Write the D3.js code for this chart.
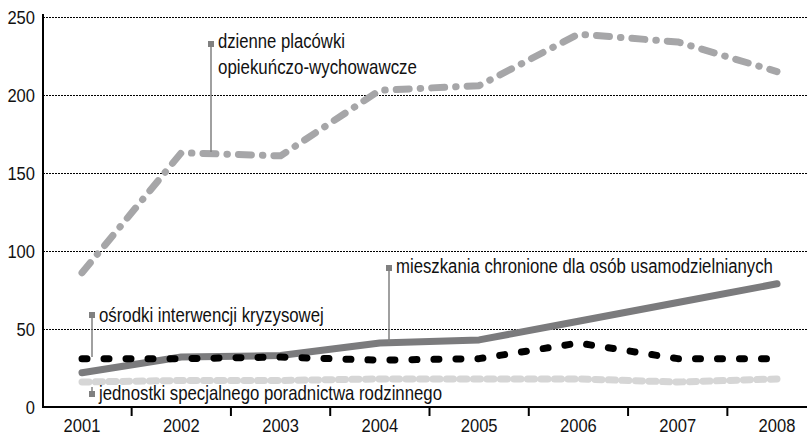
<!DOCTYPE html>
<html>
<head>
<meta charset="utf-8">
<script src="https://cdn.jsdelivr.net/npm/d3@7"></script>
<style>
  body { margin: 0; background: #fff; }
  svg { display: block; font-family: "Liberation Sans", Arial, sans-serif; }
</style>
</head>
<body>
<svg id="svg"></svg>
<script>
const years = ['2001', '2002', '2003', '2004', '2005', '2006', '2007', '2008']
const yTicks = [0, 50, 100, 150, 200, 250]

const dzienne = [86, 163, 161, 203, 206, 239, 234, 215]
const mieszkania = [22, 32, 33, 41, 43, 55, 67, 79]
const osrodki = [31, 31, 32, 30, 31, 41, 31, 31]
const jednostki = [16, 17, 17, 18, 18, 18, 16, 18]

const width = 807
const height = 437
const margin = {top: 17, right: 0, bottom: 30, left: 43}
const digitW = 9.2

const svg = d3.select('#svg').attr('width', width).attr('height', height)

const x = d3.scalePoint().domain(years).range([82, 777])
const y = d3.scaleLinear().domain([0, 250]).range([407, 17])

// squeeze a text horizontally to a given width (narrow font look)
function squeeze(sel, w, anchor) {
  sel.each(function(d, i) {
    const el = d3.select(this)
    const target = typeof w === 'function' ? w(d, i) : w
    const natural = this.getComputedTextLength()
    const tx = +el.attr('x'), ty = +el.attr('y')
    el.attr('x', 0).attr('y', 0)
      .attr('text-anchor', anchor || 'start')
      .attr('transform', `translate(${tx},${ty}) scale(${target / natural},1)`)
  })
}

// grid
svg.append('g')
  .selectAll('line')
  .data(yTicks.filter(d => d > 0))
  .join('line')
    .attr('x1', margin.left).attr('x2', width)
    .attr('y1', d => y(d) + 0.5).attr('y2', d => y(d) + 0.5)
    .attr('stroke', '#000').attr('stroke-width', 1)
    .attr('stroke-dasharray', '2,1')

const line = d3.line().x((d, i) => x(years[i])).y(d => y(d))

const series = [
  {values: jednostki, color: '#d6d6d6', dash: '7,6.5'},
  {values: mieszkania, color: '#7b7b7d', dash: null},
  {values: osrodki, color: '#000', dash: '5,17'},
  {values: dzienne, color: '#a6a6a8', dash: '13,11,0.5,11'}
]

svg.append('g')
  .selectAll('path')
  .data(series)
  .join('path')
    .attr('d', d => line(d.values))
    .attr('fill', 'none')
    .attr('stroke', d => d.color)
    .attr('stroke-width', 7)
    .attr('stroke-linecap', 'round')
    .attr('stroke-linejoin', 'round')
    .attr('stroke-dasharray', d => d.dash)

// axes
svg.append('line')
  .attr('x1', margin.left).attr('x2', margin.left)
  .attr('y1', 14).attr('y2', 408)
  .attr('stroke', '#000').attr('stroke-width', 2)
svg.append('line')
  .attr('x1', margin.left - 1).attr('x2', width)
  .attr('y1', 407).attr('y2', 407)
  .attr('stroke', '#000').attr('stroke-width', 2)

const step = x.step()
svg.append('g')
  .selectAll('line')
  .data(years.slice(1))
  .join('line')
    .attr('x1', d => x(d) - step / 2).attr('x2', d => x(d) - step / 2)
    .attr('y1', 407).attr('y2', 416)
    .attr('stroke', '#000').attr('stroke-width', 2)

svg.append('g')
  .selectAll('text')
  .data(years)
  .join('text')
    .attr('x', d => x(d)).attr('y', 432)
    .attr('font-size', 19)
    .attr('fill', '#111')
    .text(d => d)
    .call(squeeze, d => d.length * digitW, 'middle')

svg.append('g')
  .selectAll('text')
  .data(yTicks)
  .join('text')
    .attr('x', 35).attr('y', d => y(d) + 6.5)
    .attr('font-size', 19)
    .attr('fill', '#111')
    .text(d => d)
    .call(squeeze, d => String(d).length * digitW, 'end')

// annotations
const notes = [
  {x: 211, y0: 44, y1: 152, base: 48, lines: ['dzienne placówki', 'opiekuńczo-wychowawcze'], w: [127, 199]},
  {x: 389, y0: 268, y1: 342, base: 273, lines: ['mieszkania chronione dla osób usamodzielnianych'], w: [377]},
  {x: 92, y0: 315, y1: 357, base: 322, lines: ['ośrodki interwencji kryzysowej'], w: [225]},
  {x: 92, y0: 394, y1: 387, base: 400, lines: ['jednostki specjalnego poradnictwa rodzinnego'], w: [343]}
]

const note = svg.append('g').selectAll('g').data(notes).join('g')
note.append('line')
  .attr('x1', d => d.x).attr('x2', d => d.x)
  .attr('y1', d => d.y0).attr('y2', d => d.y1)
  .attr('stroke', '#808080').attr('stroke-width', 1.5)
note.append('rect')
  .attr('x', d => d.x - 3).attr('y', d => d.y0 - 3)
  .attr('width', 6).attr('height', 6)
  .attr('fill', '#808080')
note.each(function(d) {
  d3.select(this).selectAll('text')
    .data(d.lines)
    .join('text')
      .attr('x', d.x + 7)
      .attr('y', (t, i) => d.base + i * 26)
      .attr('font-size', 21)
      .attr('fill', '#111')
      .text(t => t)
      .call(squeeze, (t, i) => d.w[i])
})
</script>
</body>
</html>
